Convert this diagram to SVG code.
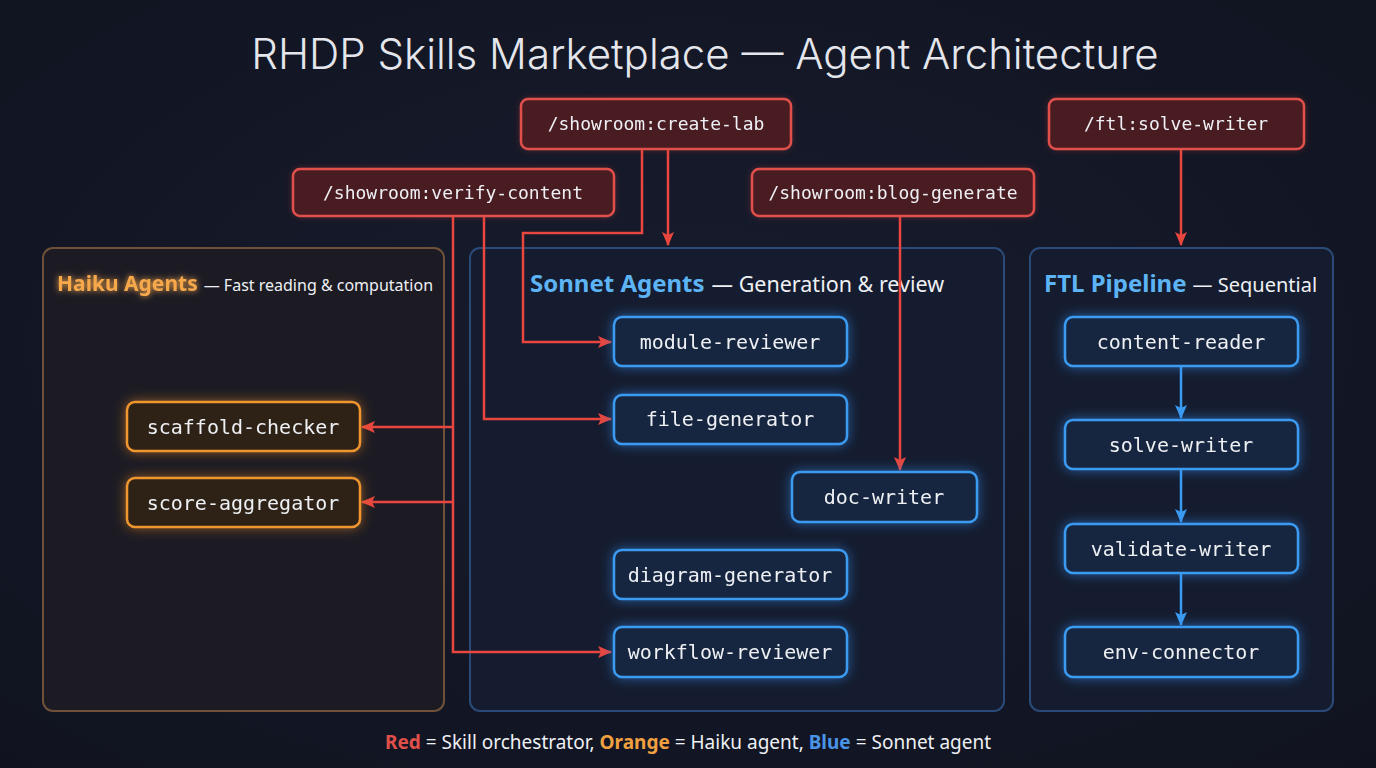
<svg xmlns="http://www.w3.org/2000/svg" width="1376" height="768" viewBox="0 0 1376 768">
<defs>
  <radialGradient id="bg" cx="50%" cy="45%" r="75%">
    <stop offset="0" stop-color="#171c2e"/>
    <stop offset="1" stop-color="#10131f"/>
  </radialGradient>
  <filter id="glowB" x="-20%" y="-40%" width="140%" height="180%">
    <feGaussianBlur in="SourceAlpha" stdDeviation="6" result="b"/>
    <feFlood flood-color="#2f8cf0" flood-opacity="0.6"/>
    <feComposite in2="b" operator="in" result="g"/>
    <feMerge><feMergeNode in="g"/><feMergeNode in="SourceGraphic"/></feMerge>
  </filter>
  <filter id="glowO" x="-20%" y="-40%" width="140%" height="180%">
    <feGaussianBlur in="SourceAlpha" stdDeviation="6" result="b"/>
    <feFlood flood-color="#f08a20" flood-opacity="0.55"/>
    <feComposite in2="b" operator="in" result="g"/>
    <feMerge><feMergeNode in="g"/><feMergeNode in="SourceGraphic"/></feMerge>
  </filter>
  <filter id="glowR" x="-20%" y="-40%" width="140%" height="180%">
    <feGaussianBlur in="SourceAlpha" stdDeviation="3" result="b"/>
    <feFlood flood-color="#e04040" flood-opacity="0.3"/>
    <feComposite in2="b" operator="in" result="g"/>
    <feMerge><feMergeNode in="g"/><feMergeNode in="SourceGraphic"/></feMerge>
  </filter>
  <filter id="txtGlowB" x="-10%" y="-50%" width="120%" height="200%">
    <feGaussianBlur in="SourceGraphic" stdDeviation="3" result="b"/>
    <feMerge><feMergeNode in="b"/><feMergeNode in="SourceGraphic"/></feMerge>
  </filter>
  <marker id="arrR" viewBox="0 0 14 12" refX="13" refY="6" markerWidth="14" markerHeight="12" markerUnits="userSpaceOnUse" orient="auto">
    <path d="M0,0 L14,6 L0,12 L3,6 Z" fill="#e8463f"/>
  </marker>
  <marker id="arrB" viewBox="0 0 14 12" refX="13" refY="6" markerWidth="14" markerHeight="12" markerUnits="userSpaceOnUse" orient="auto">
    <path d="M0,0 L14,6 L0,12 L3,6 Z" fill="#3b9bf2"/>
  </marker>
  <style>
    .title { font-family: Inter, "Noto Sans", sans-serif; font-weight: 300; font-size: 42px; fill: #e4e6ec; }
    .skill rect { fill: #4a1c24; stroke: #e0504a; stroke-width: 2.5; }
    .mono { font-family: "DejaVu Sans Mono", "Liberation Mono", monospace; fill: #eef0f4; text-anchor: middle; }
    .skill text { font-size: 18px; }
    .agentB rect { fill: #182840; stroke: #3b9bf2; stroke-width: 2.5; }
    .agentO rect { fill: #2f2419; stroke: #f0962e; stroke-width: 2.5; }
    .agent text { font-size: 20px; }
    .grpO { fill: #1c1b24; stroke: #6e5138; stroke-width: 2; }
    .grpB { fill: #151c2f; stroke: #2b4a78; stroke-width: 2; }
    .hdr { font-family: "Noto Sans", "Open Sans", sans-serif; }
    .hdrB { fill: #5db4f5; font-weight: 700; }
    .hdrO { fill: #f7a84c; font-weight: 700; }
    .sub { fill: #eef0f4; font-weight: 400; }
    .red { fill: none; stroke: #e8463f; stroke-width: 2.5; }
    .blue { fill: none; stroke: #3b9bf2; stroke-width: 2.5; }
    .legend { font-family: "Noto Sans", "Open Sans", sans-serif; font-size: 19px; fill: #eef0f4; }
  </style>
</defs>

<rect width="1376" height="768" fill="url(#bg)"/>

<text class="title" x="705" y="69" text-anchor="middle">RHDP Skills Marketplace — Agent Architecture</text>

<!-- groups -->
<g id="group-haiku">
  <rect class="grpO" x="43" y="248" width="401" height="463" rx="10"/>
  <text class="hdr" x="57" y="291" font-size="21"><tspan class="hdrO" filter="url(#txtGlowB)">Haiku Agents</tspan><tspan class="sub" font-size="16" dx="6">— Fast reading &amp; computation</tspan></text>
</g>
<g id="group-sonnet">
  <rect class="grpB" x="470" y="248" width="534" height="463" rx="10"/>
  <text class="hdr" x="530" y="292" font-size="24"><tspan class="hdrB">Sonnet Agents</tspan><tspan class="sub" font-size="21.5" dx="7">— Generation &amp; review</tspan></text>
</g>
<g id="group-ftl">
  <rect class="grpB" x="1030" y="248" width="303" height="463" rx="10"/>
  <text class="hdr" x="1044" y="292" font-size="24"><tspan class="hdrB">FTL Pipeline</tspan><tspan class="sub" font-size="20" dx="6">— Sequential</tspan></text>
</g>

<!-- connectors -->
<g id="connectors">
  <path class="red" d="M642,149 V233 H523 V342 H611" marker-end="url(#arrR)"/>
  <path class="red" d="M668,149 V245" marker-end="url(#arrR)"/>
  <path class="red" d="M484,216 V419 H611" marker-end="url(#arrR)"/>
  <path class="red" d="M453,216 V652 H611" marker-end="url(#arrR)"/>
  <path class="red" d="M453,427 H362" marker-end="url(#arrR)"/>
  <path class="red" d="M453,502 H362" marker-end="url(#arrR)"/>
  <path class="red" d="M900,216 V470" marker-end="url(#arrR)"/>
  <path class="red" d="M1181,149 V245" marker-end="url(#arrR)"/>
  <path class="blue" d="M1181,366 V418" marker-end="url(#arrB)"/>
  <path class="blue" d="M1181,469 V522" marker-end="url(#arrB)"/>
  <path class="blue" d="M1181,573 V625" marker-end="url(#arrB)"/>
</g>

<!-- skills -->
<g id="skill-create-lab" class="skill" filter="url(#glowR)">
  <rect x="521" y="99" width="270" height="50" rx="7"/>
  <text class="mono" x="656" y="130">/showroom:create-lab</text>
</g>
<g id="skill-verify-content" class="skill" filter="url(#glowR)">
  <rect x="293" y="169" width="321" height="47" rx="7"/>
  <text class="mono" x="453" y="199">/showroom:verify-content</text>
</g>
<g id="skill-blog-generate" class="skill" filter="url(#glowR)">
  <rect x="752" y="169" width="282" height="47" rx="7"/>
  <text class="mono" x="893" y="199">/showroom:blog-generate</text>
</g>
<g id="skill-ftl-solve-writer" class="skill" filter="url(#glowR)">
  <rect x="1049" y="99" width="255" height="50" rx="7"/>
  <text class="mono" x="1176" y="130">/ftl:solve-writer</text>
</g>

<!-- haiku agents -->
<g id="scaffold-checker" class="agent agentO" filter="url(#glowO)">
  <rect x="127" y="402" width="233" height="49" rx="8"/>
  <text class="mono" x="243" y="434">scaffold-checker</text>
</g>
<g id="score-aggregator" class="agent agentO" filter="url(#glowO)">
  <rect x="127" y="478" width="233" height="49" rx="8"/>
  <text class="mono" x="243" y="510">score-aggregator</text>
</g>

<!-- sonnet agents -->
<g id="module-reviewer" class="agent agentB" filter="url(#glowB)">
  <rect x="614" y="317" width="233" height="49" rx="8"/>
  <text class="mono" x="730" y="349">module-reviewer</text>
</g>
<g id="file-generator" class="agent agentB" filter="url(#glowB)">
  <rect x="614" y="395" width="233" height="49" rx="8"/>
  <text class="mono" x="730" y="426">file-generator</text>
</g>
<g id="doc-writer" class="agent agentB" filter="url(#glowB)">
  <rect x="792" y="472" width="185" height="50" rx="8"/>
  <text class="mono" x="884" y="504">doc-writer</text>
</g>
<g id="diagram-generator" class="agent agentB" filter="url(#glowB)">
  <rect x="614" y="550" width="233" height="49" rx="8"/>
  <text class="mono" x="730" y="582">diagram-generator</text>
</g>
<g id="workflow-reviewer" class="agent agentB" filter="url(#glowB)">
  <rect x="614" y="627" width="233" height="50" rx="8"/>
  <text class="mono" x="730" y="659">workflow-reviewer</text>
</g>

<!-- ftl pipeline -->
<g id="content-reader" class="agent agentB" filter="url(#glowB)">
  <rect x="1065" y="317" width="233" height="49" rx="8"/>
  <text class="mono" x="1181" y="349">content-reader</text>
</g>
<g id="solve-writer" class="agent agentB" filter="url(#glowB)">
  <rect x="1065" y="420" width="233" height="49" rx="8"/>
  <text class="mono" x="1181" y="452">solve-writer</text>
</g>
<g id="validate-writer" class="agent agentB" filter="url(#glowB)">
  <rect x="1065" y="524" width="233" height="49" rx="8"/>
  <text class="mono" x="1181" y="556">validate-writer</text>
</g>
<g id="env-connector" class="agent agentB" filter="url(#glowB)">
  <rect x="1065" y="627" width="233" height="50" rx="8"/>
  <text class="mono" x="1181" y="659">env-connector</text>
</g>

<g id="legend">
  <text class="legend" x="688" y="749" text-anchor="middle"><tspan fill="#e0504a" font-weight="700">Red</tspan> = Skill orchestrator, <tspan fill="#f0a040" font-weight="700">Orange</tspan> = Haiku agent, <tspan fill="#4a94e6" font-weight="700">Blue</tspan> = Sonnet agent</text>
</g>
</svg>
